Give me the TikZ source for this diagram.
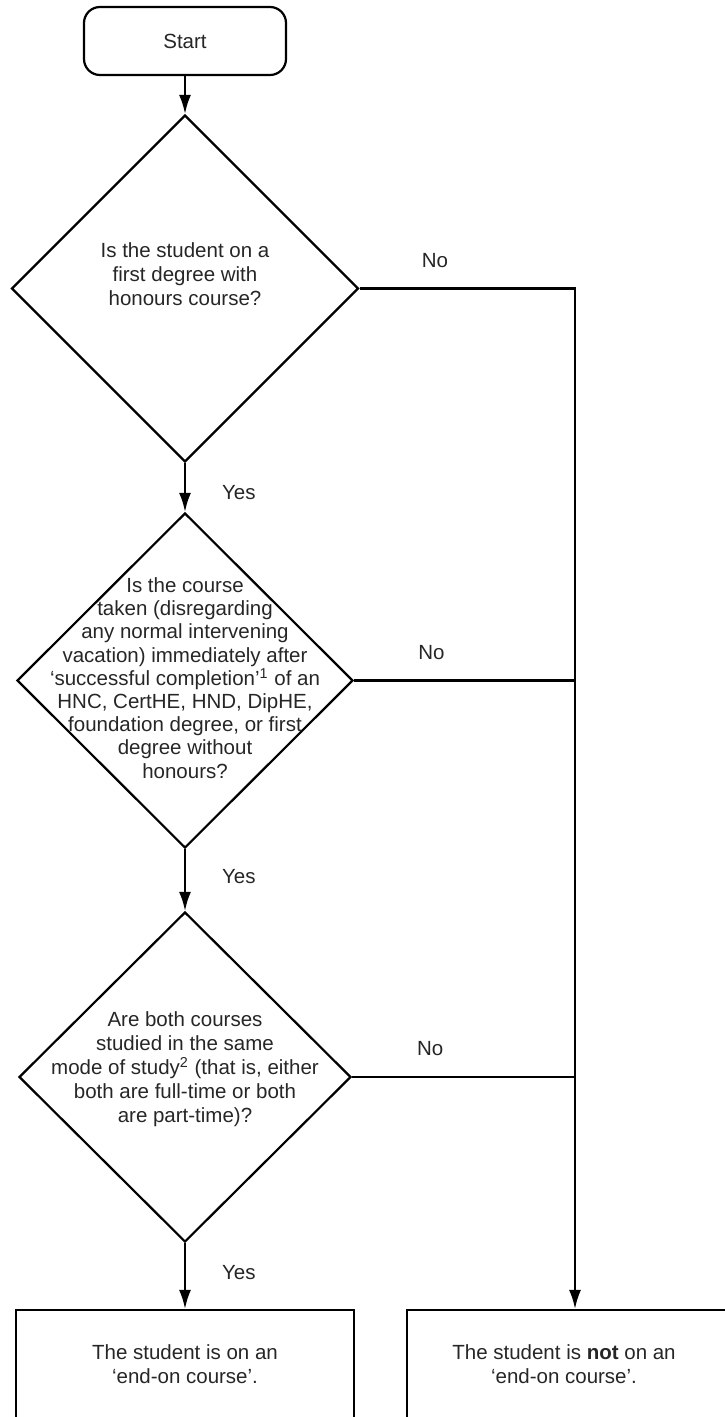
\documentclass[tikz,border=0pt]{standalone}
\usepackage{fontspec}
\setmainfont{Liberation Sans}
\usetikzlibrary{shapes.geometric,arrows.meta,positioning}

\begin{document}
\begin{tikzpicture}[node distance=2cm,on grid,line width=1.1pt,
                      >={Latex[length=9.5pt,width=6pt]},
                      every node/.style={font=\fontsize{10.25}{12}\selectfont,text=black!85},
                      startbox/.style={draw,rectangle,rounded corners=8pt,minimum width=101pt,minimum height=34pt},
                      decision/.style={draw,diamond,aspect=1,inner sep=0pt},
                      endbox/.style={draw,rectangle,minimum width=169pt,minimum height=80pt},
                      question/.style={align=center,inner sep=0pt},
                      answer/.style={inner sep=0pt}]
                      \useasboundingbox (0,0) rectangle (362pt,-708.5pt);
                      \node[startbox] (start) at (92.5pt,-20.5pt) {Start};
                      \node[decision, minimum size=173.5pt] (dec_1) [below=123.75pt of start] {};
                      \node[decision, minimum width=168pt, minimum height=167.5pt] (dec_2) [below=196pt of dec_1] {};
                      \node[decision, minimum width=166pt, minimum height=165pt] (dec_3) [below=198.25pt of dec_2] {};
                      \node[endbox] (end_yes) [below=156.5pt of dec_3] {};
                      \node[endbox, minimum width=163pt] (end_no) [right=192.5pt of end_yes] {};
                      \coordinate[right=195pt of dec_1] (join);
                      % texts inside the shapes
                      \node[question] (q_1) [above=7.25pt of dec_1]
                      {Is the student on a\\ first degree with\\ honours course?};
                      \node[question, font=\fontsize{10.25}{11.6}\selectfont] (q_2) [above=1.25pt of dec_2]
                      {Is the course\\ taken (disregarding\\ any normal intervening\\ vacation) immediately after\\
                       ‘successful completion’\textsuperscript{1} of an\\ HNC, CertHE, HND, DipHE,\\
                       foundation degree, or first\\ degree without\\ honours?};
                      \node[question] (q_3) [above=4pt of dec_3]
                      {Are both courses\\ studied in the same\\ mode of study\textsuperscript{2} (that is, either\\
                       both are full-time or both\\ are part-time)?};
                      \node[question] (r_yes) [above=13pt of end_yes]
                      {The student is on an\\ ‘end-on course’.};
                      \node[question] (r_no) [above=13pt of end_no, xshift=-3pt]
                      {The student is \textbf{not} on an\\ ‘end-on course’.};
                      \path[->]
                      (start) edge (dec_1)
                      (dec_1) edge node[answer, pos=0.6, right=18pt] {Yes} (dec_2)
                      (dec_2) edge node[answer, pos=0.45, right=18pt] {Yes} (dec_3)
                      (dec_3) edge node[answer, pos=0.45, right=18pt] {Yes} (end_yes);
                      \draw[->] (dec_1.east) -- node[answer, pos=0.35, above=10pt] {No} (join)
                      -- (join |- end_no.north);
                      \draw (dec_2.east) -- node[answer, pos=0.35, above=10pt] {No} (dec_2.east -| join);
                      \draw (dec_3.east) -- node[answer, pos=0.35, above=10pt] {No} (dec_3.east -| join);
                  \end{tikzpicture}
\end{document}
